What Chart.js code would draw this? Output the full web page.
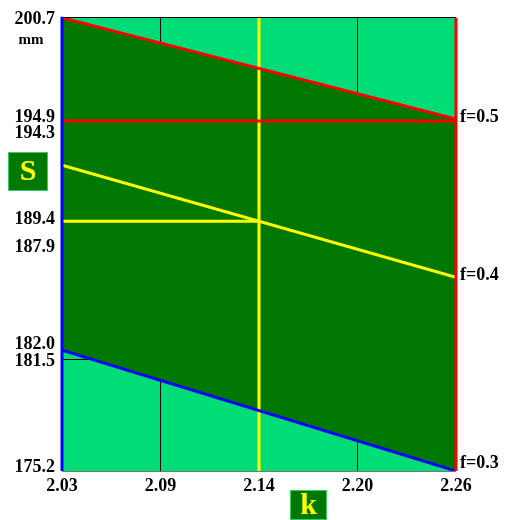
<!DOCTYPE html>
<html lang="ru">
<head>
<meta charset="UTF-8">
<title>S(k)</title>
<script src="https://cdn.jsdelivr.net/npm/chart.js"></script>
<style>
  html, body { margin: 0; padding: 0; background: #fff; }
  #wrap { width: 508px; height: 520px; }
</style>
</head>
<body>
<div id="wrap"><canvas id="chart"></canvas></div>
<script>
// k axis (x) and S axis (y), values in mm
const kTicks = [2.03, 2.0875, 2.145, 2.2025, 2.26];
const kLabels = ['2.03', '2.09', '2.14', '2.20', '2.26'];
const sGrid = [175.2, 181.5, 187.9, 194.3, 200.7];
// labels stand a bit apart where two of them are close together
const sLabelAt = [175.4, 181.35, 182.3, 187.8, 189.37, 194.2, 195.1, 200.6];
const sLabels = ['175.2', '181.5', '182.0', '187.9', '189.4', '194.3', '194.9', '200.7'];

// S at k = 2.03 and k = 2.26 for each f
const kEnds = [2.03, 2.26];
const sRange = [175.2, 200.7];
const sF05 = [200.7, 195.0];
const sF04 = [192.4, 186.1];
const sF03 = [182.0, 175.2];
const fLabels = ['f=0.5', 'f=0.4', 'f=0.3'];

// limit line and the chosen point
const sLimit = 194.9;
const kChosen = 2.145;
const sChosen = 189.25;

const LIGHT = '#00dd77';
const DARK = '#007800';
const FONT = '"Liberation Serif", "Times New Roman", serif';

const pts = (xs, ys) => xs.map((x, i) => ({ x: x, y: ys[i] }));

// light green background inside the plot + borders, text and boxes around it
const decor = {
    id: 'decor',
    beforeDraw(chart) {
        const a = chart.chartArea, c = chart.ctx;
        c.save();
        c.fillStyle = LIGHT;
        c.fillRect(a.left, a.top, a.right - a.left, a.bottom - a.top);
        c.restore();
    },
    afterDraw(chart) {
        const c = chart.ctx, y = chart.scales.y, a = chart.chartArea;
        c.save();
        // side borders
        c.lineWidth = 3;
        c.strokeStyle = '#0000ff';
        c.beginPath(); c.moveTo(a.left, a.top - 1); c.lineTo(a.left, a.bottom); c.stroke();
        c.strokeStyle = '#ff0000';
        c.beginPath(); c.moveTo(a.right, a.top); c.lineTo(a.right, a.bottom); c.stroke();

        c.fillStyle = '#000';
        c.font = 'bold 15px ' + FONT;
        c.textAlign = 'center';
        c.textBaseline = 'middle';
        c.fillText('mm', 31, y.getPixelForValue(sRange[1]) + 22);

        // f labels at the right end of every line
        c.font = 'bold 18px ' + FONT;
        c.textAlign = 'left';
        [sF05, sF04, sF03].forEach((s, i) => {
            const py = Math.min(y.getPixelForValue(s[1]) - 2, a.bottom - 8);
            c.fillText(fLabels[i], a.right + 4, py);
        });

        // axis name boxes
        const box = (x0, y0, w, h, txt) => {
            c.fillStyle = DARK;
            c.fillRect(x0, y0, w, h);
            c.strokeStyle = '#33cc66';
            c.lineWidth = 1;
            c.strokeRect(x0 + 0.5, y0 + 0.5, w - 1, h - 1);
            c.fillStyle = '#ffff00';
            c.font = 'bold 30px ' + FONT;
            c.textAlign = 'center';
            c.textBaseline = 'middle';
            c.fillText(txt, x0 + w / 2, y0 + h / 2 + 1);
        };
        box(8, 152, 40, 39, 'S');
        box(290, 490, 37, 30, 'k');
        c.restore();
    }
};

new Chart(document.getElementById('chart'), {
    type: 'line',
    data: {
        datasets: [
            { data: pts(kEnds, sF05), borderColor: '#ff0000', borderWidth: 3,
              fill: { target: 2 }, backgroundColor: DARK },
            { data: pts(kEnds, sF04), borderColor: '#ffff00', borderWidth: 3, fill: false },
            { data: pts(kEnds, sF03), borderColor: '#0000ff', borderWidth: 3, fill: false },
            { data: pts(kEnds, [sLimit, sLimit]), borderColor: '#ff0000', borderWidth: 3, fill: false },
            { data: pts([kChosen, kChosen], sRange), borderColor: '#ffff00', borderWidth: 3, fill: false },
            { data: pts([kEnds[0], kChosen], [sChosen, sChosen]), borderColor: '#ffff00', borderWidth: 3, fill: false }
        ]
    },
    options: {
        responsive: true,
        maintainAspectRatio: false,
        animation: false,
        layout: { padding: { top: 17, right: 52, bottom: 0, left: 0 } },
        elements: { point: { radius: 0 }, line: { tension: 0 } },
        plugins: {
            legend: { display: false },
            tooltip: { enabled: false },
            filler: { drawTime: 'beforeDatasetsDraw' }
        },
        scales: {
            x: {
                type: 'linear',
                min: kEnds[0],
                max: kEnds[1],
                z: 1,
                border: { display: false },
                afterBuildTicks: s => { s.ticks = kTicks.map(v => ({ value: v })); },
                afterFit: s => { s.height = 49; },
                grid: {
                    drawTicks: false,
                    color: ctx => (ctx.index === 1 || ctx.index === 3) ? '#000' : 'rgba(0,0,0,0)'
                },
                ticks: {
                    autoSkip: false,
                    maxRotation: 0,
                    padding: 5,
                    color: '#000',
                    font: { family: FONT, size: 18, weight: 'bold' },
                    callback: (v, i) => kLabels[i]
                }
            },
            y: {
                min: sRange[0],
                max: sRange[1],
                border: { display: false },
                afterBuildTicks: s => { s.ticks = sLabelAt.map(v => ({ value: v })); },
                afterFit: s => { s.width = 62; },
                grid: { display: false, drawTicks: false },
                ticks: {
                    autoSkip: false,
                    padding: 7,
                    color: '#000',
                    font: { family: FONT, size: 18, weight: 'bold' },
                    callback: (v, i) => sLabels[i]
                }
            },
            yGrid: {
                axis: 'y',
                position: 'left',
                min: sRange[0],
                max: sRange[1],
                z: 1,
                border: { display: false },
                afterBuildTicks: s => { s.ticks = sGrid.map(v => ({ value: v })); },
                afterFit: s => { s.width = 0; },
                grid: {
                    drawTicks: false,
                    color: ctx => ctx.index === 0 ? '#777' : '#000'
                },
                ticks: { display: false }
            }
        }
    },
    plugins: [decor]
});
</script>
</body>
</html>
